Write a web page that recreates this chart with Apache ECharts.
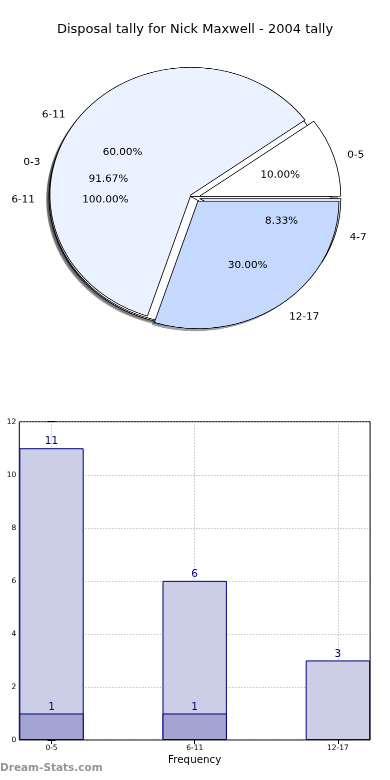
<!DOCTYPE html>
<html>
<head>
<meta charset="utf-8">
<script src="https://cdn.jsdelivr.net/npm/echarts@6/dist/echarts.min.js"></script>
<style>
html,body{margin:0;padding:0;background:#fff;}
#main{position:absolute;left:0;top:0;width:390px;height:780px;}
#pie{position:absolute;left:0;top:0;width:390px;height:440px;transform:scaleY(0.904);transform-origin:0 0;}
</style>
</head>
<body>
<div id="main"></div>
<div id="pie"></div>
<script>
// ---- data ----
const titleText = 'Disposal tally for Nick Maxwell - 2004 tally';
// pie layers (drawn bottom to top)
const layer1Names = ['6-11'];
const layer1Values = [1];
const layer2Names = ['0-3', '4-7'];
const layer2Values = [11, 1];
const layer3Names = ['0-5', '6-11', '12-17'];
const layer3Values = [1, 6, 3];
// bar chart
const barCategories = ['0-5', '6-11', '12-17'];
const barTotals = [11, 6, 3];
const barInner = [1, 1];
const yTicks = [0, 2, 4, 6, 8, 10, 12];
const xAxisName = 'Frequency';
const yAxisName = 'Disposal tally';
const watermark = 'Dream-Stats.com';

// ---- styles ----
const FONT = 'DejaVu Sans';
const sliceColors = ['#ffffff', '#eaf1ff', '#c5d9fe'];
const shadowColors = ['rgba(77,77,77,0.5)', 'rgba(70,72,77,0.5)', 'rgba(59,65,76,0.5)'];

// ---- pie chart ----
const S = 0.904;
const CX = 195, CY = 197.5 / S, R = 141;
const EXPLODE = 5;
const LABEL_DY = 3;
const layers = [
  [layer1Names, layer1Values],
  [layer2Names, layer2Values],
  [layer3Names, layer3Values]
];
function items(names, values, colorFn) {
  return names.map((n, i) => ({
    name: n, value: values[i], selected: true,
    itemStyle: { color: colorFn(i) }
  }));
}
const base = {
  type: 'pie', startAngle: 0, clockwise: false,
  selectedMode: 'multiple', selectedOffset: EXPLODE,
  avoidLabelOverlap: false, silent: true, animation: false,
  emphasis: { disabled: true }
};
const pieSeries = [];
// shadows (all below wedges)
layers.forEach(([names, values]) => {
  pieSeries.push(Object.assign({}, base, {
    z: 1, center: [CX - 2.8, CY + 2.8], radius: R,
    data: items(names, values, i => shadowColors[i]),
    itemStyle: { borderWidth: 0 },
    label: { show: false }, labelLine: { show: false }
  }));
});
// wedges
layers.forEach(([names, values]) => {
  pieSeries.push(Object.assign({}, base, {
    z: 2, center: [CX, CY], radius: R,
    data: items(names, values, i => sliceColors[i]),
    itemStyle: { borderColor: '#000', borderWidth: 0.8 },
    select: { itemStyle: { borderColor: '#000', borderWidth: 0.8 } },
    label: { show: false }, labelLine: { show: false }
  }));
});
// name labels (at 1.1 r) and percentage labels (at 0.6 r)
layers.forEach(([names, values]) => {
  pieSeries.push(Object.assign({}, base, {
    z: 3, center: [CX, CY + LABEL_DY], radius: R,
    data: items(names, values, () => 'rgba(0,0,0,0)'),
    itemStyle: { borderWidth: 0 },
    select: { itemStyle: { borderWidth: 0 } },
    label: { show: true, position: 'outside', formatter: '{b}', color: '#000',
             fontFamily: FONT, fontSize: 10.4, distanceToLabelLine: 0 },
    labelLine: { show: false, length: R * 0.1, length2: 0 }
  }));
  pieSeries.push(Object.assign({}, base, {
    z: 3, center: [CX, CY + LABEL_DY], radius: 2 * (0.6 * R - 3),
    data: items(names, values, () => 'rgba(0,0,0,0)'),
    itemStyle: { borderWidth: 0 },
    select: { itemStyle: { borderWidth: 0 } },
    label: { show: true, position: 'inside', color: '#000', fontFamily: FONT, fontSize: 10.4,
             formatter: p => p.percent.toFixed(2) + '%' },
    labelLine: { show: false }
  }));
});
const pieChart = echarts.init(document.getElementById('pie'), null, { renderer: 'canvas', devicePixelRatio: 2 });
pieChart.setOption({ animation: false, backgroundColor: 'transparent', series: pieSeries });

// ---- bar chart ----
const gridLine = { show: true, lineStyle: { color: '#a8a8a8', type: [1, 2], width: 1 } };
const xCommon = { type: 'value', min: -0.225, max: 2.225 };
const yCommon = { type: 'value', min: 0, max: 12, interval: 2 };
const mainChart = echarts.init(document.getElementById('main'), null, { renderer: 'canvas' });
mainChart.setOption({
  animation: false,
  backgroundColor: '#fff',
  title: [
    { text: titleText, left: 'center', top: 23, padding: 0,
      textStyle: { fontFamily: FONT, fontSize: 13, fontWeight: 'normal', color: '#000' } },
    { text: watermark, left: 0, top: 763, padding: 0,
      textStyle: { fontFamily: FONT, fontSize: 10.5, fontWeight: 'bold', color: '#959595' } }
  ],
  grid: { left: 19.3, right: 19.9, top: 421.7, bottom: 40, show: true, borderColor: '#000',
          borderWidth: 1, backgroundColor: 'transparent', outerBoundsMode: 'none', containLabel: false },
  xAxis: [
    Object.assign({}, xCommon, {
      position: 'bottom',
      name: xAxisName, nameLocation: 'middle', nameGap: 15, nameMoveOverlap: false,
      nameTextStyle: { fontFamily: FONT, fontSize: 10.3, color: '#000' },
      axisLine: { show: false },
      axisTick: { show: true, inside: true, length: 4, customValues: [0, 1, 2], lineStyle: { color: '#000' } },
      axisLabel: { show: true, customValues: [0, 1, 2], margin: 4, fontFamily: FONT, fontSize: 7.5, color: '#000',
                   formatter: v => barCategories[Math.round(v)] },
      splitLine: gridLine
    }),
    Object.assign({}, xCommon, {
      position: 'top',
      axisLine: { show: false },
      axisTick: { show: true, inside: true, length: 4, customValues: [0, 1, 2], lineStyle: { color: '#000' } },
      axisLabel: { show: false },
      splitLine: { show: false }
    })
  ],
  yAxis: [
    Object.assign({}, yCommon, {
      position: 'left',
      name: yAxisName, nameLocation: 'middle', nameGap: 21, nameRotate: 90, nameMoveOverlap: false,
      nameTextStyle: { fontFamily: FONT, fontSize: 10.3, color: '#000' },
      axisLine: { show: false },
      axisTick: { show: true, inside: true, length: 4, lineStyle: { color: '#000' } },
      axisLabel: { margin: 3, fontFamily: FONT, fontSize: 7.5, color: '#000',
                   formatter: v => (yTicks.indexOf(v) >= 0 ? String(v) : '') },
      splitLine: gridLine
    }),
    Object.assign({}, yCommon, {
      position: 'right',
      axisLine: { show: false },
      axisTick: { show: true, inside: true, length: 4, lineStyle: { color: '#000' } },
      axisLabel: { show: false },
      splitLine: { show: false }
    })
  ],
  series: [
    {
      type: 'bar', xAxisIndex: 0, yAxisIndex: 0, barWidth: 64.4, barGap: '-100%', z: 2,
      data: barTotals.map((v, i) => [i, v]),
      itemStyle: { color: '#cccde6', borderColor: '#000080', borderWidth: 1 },
      label: { show: true, position: 'top', distance: 1, color: '#000080', fontFamily: FONT, fontSize: 10.5,
               formatter: p => String(p.value[1]) }
    },
    {
      type: 'bar', xAxisIndex: 0, yAxisIndex: 0, barWidth: 64.4, barGap: '-100%', z: 3,
      data: barInner.map((v, i) => [i, v]),
      itemStyle: { color: '#a3a4d1', borderColor: '#000080', borderWidth: 1 },
      label: { show: true, position: 'top', distance: 1, color: '#000080', fontFamily: FONT, fontSize: 10.5,
               formatter: p => String(p.value[1]) }
    }
  ]
});
</script>
</body>
</html>
